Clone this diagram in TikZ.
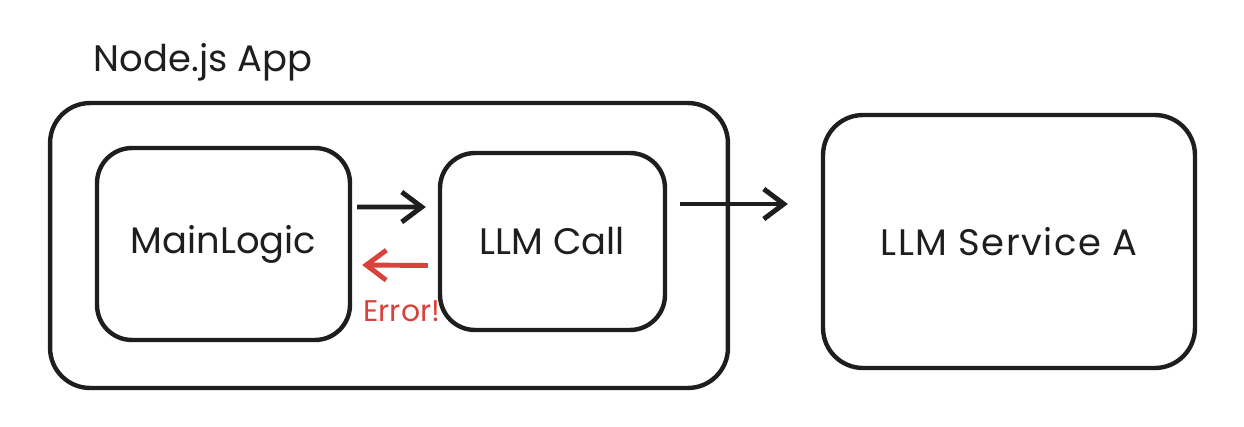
\documentclass[tikz,border=0pt]{standalone}
\usepackage{fontspec}
\setmainfont{Poppins}
\usepackage{xcolor}
\usetikzlibrary{arrows.meta, positioning}
\definecolor{ink}{HTML}{1E1E1E}
\definecolor{errred}{HTML}{D9423A}

\begin{document}
\begin{tikzpicture}[
    x=0.02cm, y=-0.02cm,
    box/.style={draw=ink, line width=2.5pt, rounded corners=0.7cm, align=center, font=\fontsize{21}{25}\selectfont, text=ink},
    arrow/.style={-{Straight Barb[length=4mm, width=6mm]}, line width=2.8pt, draw=ink},
    errarrow/.style={-{Straight Barb[length=4mm, width=6mm]}, line width=2.8pt, draw=errred}
]
    \useasboundingbox (0,0) rectangle (1244,426);

    % Containers
    \node[box, rounded corners=0.8cm, minimum width=13.56cm, minimum height=5.7cm] (app) at (389,245.5) {};
    \node[font=\fontsize{21}{25}\selectfont, text=ink] (applabel) at (203,62) {Node.js App};

    % Components
    \node[box, minimum width=5.06cm, minimum height=3.84cm] (main) at (223.5,244) {MainLogic};
    \node[box, minimum width=4.5cm, minimum height=3.54cm] (call) at (552.5,241.5) {LLM Call};
    \node[box, rounded corners=0.8cm, minimum width=7.44cm, minimum height=5.06cm, font=\fontsize{21}{25}\selectfont\addfontfeatures{LetterSpace=4}] (service) at (1009,241.5) {LLM Service A};

    % Flows
    \draw[arrow] ([xshift=0.1cm, yshift=0.74cm]main.east) -- ([xshift=-0.24cm, yshift=0.69cm]call.west);
    \draw[errarrow] ([xshift=-0.2cm, yshift=-0.48cm]call.west) -- ([xshift=0.2cm, yshift=-0.42cm]main.east)
        node[below right=0.55cm and -0.14cm, font=\fontsize{17}{20}\selectfont, text=errred] (err) {Error!};
    \draw[arrow] ([xshift=0.26cm, yshift=0.75cm]call.east) -- ([xshift=-0.66cm, yshift=0.75cm]service.west);
\end{tikzpicture}
\end{document}
